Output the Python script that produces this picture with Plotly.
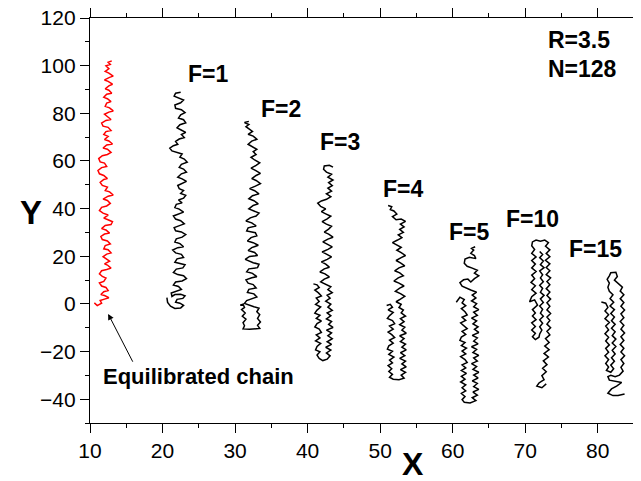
import plotly.graph_objects as go

# ---------------- data, (x, y) pairs per chain ----------------
eq_chain = [(10.6, 0.4), (11.0, -0.7), (11.6, 0.3), (11.4, 1.4), (12.0, 2.0), (12.6, 2.6), (12.0, 3.5), (11.5, 3.9),
            (11.9, 5.1), (12.5, 5.6), (12.2, 6.9), (11.6, 7.5), (11.3, 8.8), (11.9, 9.4), (12.2, 10.8), (11.7, 11.5),
            (11.3, 12.6), (11.6, 13.9), (12.3, 14.4), (12.9, 15.0), (12.4, 16.3), (12.0, 16.8), (12.7, 17.9), (12.2, 19.1),
            (11.8, 19.8), (12.3, 20.9), (12.9, 21.4), (12.5, 22.7), (11.9, 23.1), (12.1, 24.5), (12.8, 25.2), (12.4, 26.4),
            (11.7, 27.0), (11.5, 28.3), (12.0, 29.3), (12.7, 29.7), (12.2, 31.0), (11.6, 31.6), (12.1, 32.9), (12.9, 33.3),
            (13.1, 34.5), (12.4, 35.4), (11.9, 36.0), (12.5, 37.3), (11.8, 38.1), (11.3, 39.2), (11.6, 40.5), (12.3, 41.1),
            (12.8, 42.2), (12.4, 43.4), (11.8, 44.0), (12.5, 45.2), (13.2, 45.7), (12.7, 47.0), (12.1, 47.6), (12.4, 49.0),
            (11.7, 49.7), (11.4, 51.0), (11.9, 52.2), (12.4, 52.6), (11.9, 53.9), (11.3, 54.6), (11.1, 56.0), (11.6, 57.2),
            (12.3, 57.7), (12.0, 59.1), (11.4, 59.6), (11.2, 61.0), (11.7, 62.2), (12.4, 62.7), (12.9, 63.6), (12.4, 64.9),
            (11.8, 65.4), (12.3, 66.7), (13.1, 67.1), (12.6, 68.4), (12.0, 69.0), (12.5, 70.3), (11.9, 71.1), (12.2, 72.3),
            (12.9, 72.8), (12.5, 74.1), (11.8, 74.6), (11.6, 75.9), (12.2, 77.0), (12.9, 77.4), (12.4, 78.7), (12.0, 79.6),
            (12.6, 80.5), (13.2, 81.0), (12.7, 82.3), (12.1, 82.9), (12.3, 84.3), (12.9, 84.9), (12.4, 86.1), (11.9, 86.7),
            (12.3, 88.0), (13.0, 88.4), (12.6, 89.7), (12.1, 90.3), (12.6, 91.5), (13.1, 92.2), (12.5, 93.4), (12.0, 94.0),
            (12.7, 95.1), (13.2, 95.6), (12.6, 96.9), (12.1, 97.6), (12.6, 98.7), (12.2, 99.9), (12.8, 100.5), (12.5, 101.4),
            (13.0, 102.0)]

f1_chain = [(20.6, 2.6), (20.7, 0.6), (21.1, -1.0), (21.7, -1.9), (22.5, -1.7), (22.9, -0.6), (22.4, 0.3), (21.8, 0.7),
            (22.0, 1.9), (22.8, 2.3), (23.1, 3.4), (22.5, 4.0), (21.7, 3.9), (21.3, 3.1), (21.2, 4.6), (21.9, 5.5),
            (22.6, 6.1), (22.2, 7.3), (21.5, 7.9), (21.8, 9.2), (22.7, 9.6), (23.3, 10.6), (22.9, 11.8), (22.1, 12.3),
            (21.5, 13.2), (21.9, 14.6), (22.8, 15.1), (23.1, 16.4), (22.4, 17.1), (21.7, 17.5), (22.0, 18.9), (22.9, 19.5),
            (22.6, 20.8), (21.8, 21.4), (21.4, 22.6), (22.1, 23.6), (22.9, 24.0), (22.4, 25.3), (21.7, 26.0), (21.9, 27.3),
            (22.7, 28.0), (23.2, 29.1), (22.6, 30.2), (21.8, 30.7), (21.6, 32.0), (22.4, 32.9), (23.0, 33.6), (22.5, 34.9),
            (21.8, 35.6), (21.5, 36.9), (22.2, 37.8), (22.9, 38.5), (22.3, 39.8), (21.7, 40.4), (21.9, 41.8), (22.7, 42.4),
            (22.2, 43.6), (22.9, 44.4), (23.2, 45.6), (22.5, 46.4), (22.9, 47.6), (22.3, 48.4), (22.1, 49.7), (22.8, 50.5),
            (23.3, 51.4), (22.7, 52.5), (22.1, 53.2), (22.6, 54.6), (23.3, 55.3), (22.9, 56.6), (22.3, 57.3), (22.6, 58.6),
            (23.4, 59.5), (23.0, 60.8), (22.4, 61.6), (22.7, 62.9), (22.0, 63.6), (21.3, 64.2), (21.0, 65.4), (21.5, 66.4),
            (22.1, 67.0), (21.8, 68.2), (22.3, 69.2), (23.0, 69.8), (22.6, 71.1), (23.2, 72.0), (22.5, 73.1), (22.0, 73.9),
            (22.4, 75.2), (23.2, 76.0), (22.9, 77.3), (22.2, 78.0), (22.5, 79.4), (23.1, 80.3), (22.6, 81.5), (21.8, 82.1),
            (21.7, 83.5), (22.5, 84.4), (22.9, 85.6), (22.2, 86.5), (21.6, 87.2), (21.8, 88.4), (22.5, 88.8)]

f2_chain = [(30.7, -0.6), (31.1, -0.1), (31.3, -1.5), (30.9, -2.4), (31.4, -3.8), (31.0, -5.2), (31.5, -6.4), (31.1, -7.9),
            (31.3, -9.2), (31.1, -10.5), (32.0, -10.7), (32.9, -10.6), (33.4, -10.3), (33.1, -9.0), (33.5, -7.6), (33.1, -6.1),
            (33.4, -4.5), (33.0, -3.3), (33.3, -1.8), (32.6, -1.2), (31.9, -0.4), (31.3, 0.2), (31.6, 1.4), (32.4, 2.1),
            (33.0, 2.9), (32.6, 4.2), (31.7, 4.8), (31.9, 6.1), (32.9, 6.7), (32.5, 8.1), (31.8, 8.7), (31.5, 10.1),
            (32.3, 11.0), (33.0, 11.4), (32.4, 12.8), (31.6, 13.5), (31.9, 14.7), (33.1, 15.2), (33.3, 16.6), (32.5, 17.3),
            (31.4, 18.7), (32.0, 19.9), (33.1, 20.3), (32.7, 21.6), (31.8, 22.4), (32.3, 23.6), (33.2, 24.6), (32.5, 25.7),
            (31.7, 26.4), (32.2, 27.8), (33.0, 28.6), (32.8, 29.9), (31.6, 30.6), (31.8, 31.9), (32.9, 32.7), (32.3, 34.0),
            (31.5, 34.8), (32.1, 36.1), (32.9, 36.9), (33.3, 38.1), (32.6, 39.0), (31.9, 39.9), (32.5, 41.3), (33.2, 42.0),
            (32.6, 43.3), (31.9, 44.1), (32.4, 45.4), (33.3, 46.2), (32.7, 47.5), (32.0, 48.4), (32.8, 49.4), (33.5, 50.5),
            (32.9, 51.8), (32.3, 52.6), (32.9, 53.9), (33.5, 54.8), (32.8, 56.0), (32.2, 57.0), (32.9, 58.1), (33.4, 59.2),
            (32.7, 60.4), (32.2, 61.5), (32.9, 62.7), (32.5, 63.9), (33.0, 64.9), (32.4, 66.1), (31.8, 67.0), (32.3, 68.3),
            (33.0, 69.1), (32.5, 70.4), (31.8, 71.2), (32.4, 72.4), (31.9, 73.5), (31.5, 74.4), (31.9, 75.3), (31.3, 76.1),
            (31.9, 76.6)]

f3_chain = [(40.8, 8.4), (41.3, 8.0), (41.6, 6.9), (41.0, 5.8), (41.5, 4.6), (41.9, 3.3), (41.2, 2.4), (41.6, 1.0),
            (41.1, -0.2), (41.8, -1.3), (41.3, -2.6), (41.0, -3.9), (41.7, -4.8), (41.2, -6.1), (41.9, -7.2), (41.3, -8.3),
            (41.0, -9.7), (41.6, -10.6), (41.9, -12.0), (41.2, -13.0), (41.7, -14.3), (41.1, -15.5), (41.8, -16.6), (41.3, -17.9),
            (41.1, -19.3), (41.7, -20.1), (41.3, -21.5), (41.6, -22.9), (42.1, -23.8), (42.7, -23.2), (43.1, -21.8), (42.6, -20.6),
            (43.2, -19.4), (42.5, -18.2), (43.3, -17.0), (42.7, -15.9), (43.4, -14.6), (42.8, -13.4), (43.3, -12.2), (42.6, -11.0),
            (43.5, -9.9), (42.9, -8.6), (43.3, -7.4), (42.6, -6.3), (43.2, -5.0), (42.7, -3.8), (43.4, -2.7), (42.8, -1.4),
            (43.2, -0.1), (42.5, 1.1), (43.1, 2.4), (42.7, 3.6), (43.4, 4.7), (42.8, 6.0), (43.2, 7.2), (42.4, 8.3),
            (41.8, 9.2), (42.3, 10.4), (43.0, 11.3), (42.4, 12.6), (41.7, 13.4), (42.3, 14.7), (43.0, 15.4), (42.5, 16.7),
            (41.9, 17.6), (42.7, 18.7), (43.3, 19.7), (42.6, 20.9), (42.0, 21.8), (42.8, 22.9), (43.4, 23.9), (42.7, 25.1),
            (42.1, 26.0), (42.8, 27.2), (43.5, 28.0), (42.9, 29.3), (42.3, 30.1), (42.9, 31.4), (43.3, 32.6), (42.6, 33.5),
            (42.0, 34.5), (42.7, 35.7), (43.2, 36.8), (42.5, 37.8), (41.9, 38.7), (42.5, 39.9), (41.8, 40.9), (41.4, 42.3),
            (41.9, 43.2), (42.6, 43.9), (43.2, 45.0), (42.6, 46.2), (43.3, 47.3), (42.8, 48.6), (43.4, 49.6), (42.9, 50.9),
            (43.5, 52.0), (42.8, 53.2), (43.3, 54.4), (42.6, 55.3), (42.2, 56.5), (42.3, 57.9), (43.0, 58.2), (43.5, 57.4)]

f4_chain = [(50.9, -0.7), (51.4, -0.2), (51.7, -1.4), (51.1, -2.5), (51.8, -3.6), (51.3, -4.9), (51.0, -6.1), (51.7, -7.0),
            (52.0, -8.3), (51.3, -9.3), (51.8, -10.6), (51.1, -11.8), (51.6, -12.9), (52.0, -14.1), (51.3, -15.2), (51.8, -16.5),
            (51.2, -17.6), (51.0, -19.0), (51.7, -19.9), (51.2, -21.2), (51.9, -22.3), (51.3, -23.6), (51.7, -24.8), (51.1, -25.9),
            (51.6, -27.2), (51.2, -28.4), (51.7, -29.6), (51.3, -30.8), (51.8, -31.6), (52.6, -31.8), (53.3, -31.2), (52.9, -29.9),
            (53.5, -28.7), (52.8, -27.6), (53.6, -26.4), (53.0, -25.2), (53.5, -24.0), (52.7, -22.9), (53.4, -21.7), (52.8, -20.5),
            (53.6, -19.3), (53.0, -18.2), (53.5, -16.9), (52.8, -15.8), (53.3, -14.6), (52.7, -13.4), (53.6, -12.3), (53.0, -11.0),
            (53.4, -9.8), (52.7, -8.7), (53.3, -7.5), (52.8, -6.2), (53.5, -5.1), (52.9, -3.8), (53.2, -2.6), (52.6, -1.5),
            (52.9, -0.2), (52.2, 0.9), (52.8, 2.0), (53.4, 3.2), (52.8, 4.3), (52.1, 5.3), (52.7, 6.6), (53.3, 7.5),
            (52.6, 8.7), (51.9, 9.6), (52.5, 10.9), (53.2, 11.8), (52.7, 13.0), (52.0, 13.9), (52.6, 15.1), (53.4, 16.0),
            (52.8, 17.2), (52.2, 18.2), (52.9, 19.4), (53.5, 20.3), (52.9, 21.5), (52.3, 22.5), (52.9, 23.7), (52.3, 24.8),
            (51.7, 25.7), (52.4, 26.8), (53.0, 27.8), (52.5, 29.0), (53.2, 30.0), (52.7, 31.3), (53.3, 32.3), (52.8, 33.5),
            (53.5, 34.6), (52.9, 35.6), (52.2, 35.3), (51.7, 36.6), (52.3, 37.7), (51.9, 39.0), (51.4, 39.6), (51.6, 40.8),
            (51.1, 41.3)]

f5_chain = [(60.5, 0.7), (61.0, 2.8), (61.6, 1.8), (61.3, 0.4), (61.8, -0.8), (61.2, -2.0), (61.7, -3.3), (62.0, -4.6),
            (61.3, -5.6), (61.8, -6.9), (61.1, -8.0), (61.6, -9.3), (62.0, -10.4), (61.3, -11.5), (61.8, -12.8), (61.2, -13.9),
            (61.0, -15.3), (61.7, -16.2), (61.2, -17.5), (61.9, -18.6), (61.3, -19.8), (61.8, -21.0), (61.1, -22.1), (61.7, -23.4),
            (62.0, -24.6), (61.3, -25.6), (61.8, -26.9), (61.2, -28.0), (61.9, -29.2), (61.2, -30.4), (61.7, -31.6), (61.1, -32.8),
            (61.8, -34.0), (61.3, -35.2), (61.8, -36.5), (61.2, -37.6), (61.7, -38.9), (61.3, -40.2), (61.6, -41.3), (62.4, -41.6),
            (63.2, -40.6), (62.7, -39.4), (63.4, -38.3), (62.8, -37.0), (63.6, -35.9), (62.9, -34.7), (63.4, -33.4), (62.7, -32.3),
            (63.5, -31.1), (62.9, -29.9), (63.6, -28.7), (62.8, -27.5), (63.3, -26.3), (62.6, -25.1), (63.4, -24.0), (62.9, -22.7),
            (63.6, -21.6), (62.8, -20.4), (63.3, -19.1), (62.6, -18.0), (63.5, -16.8), (62.9, -15.6), (63.4, -14.3), (62.7, -13.2),
            (63.6, -12.0), (63.0, -10.7), (63.5, -9.6), (62.8, -8.4), (63.3, -7.1), (62.6, -6.0), (63.4, -4.8), (62.9, -3.5),
            (63.6, -2.4), (62.9, -1.2), (63.3, 0.1), (62.6, 1.2), (63.2, 2.5), (62.7, 3.7), (63.3, 4.9), (62.5, 5.8),
            (61.9, 6.6), (61.3, 7.4), (61.0, 8.9), (61.5, 10.1), (62.1, 10.4), (62.5, 9.2), (63.0, 10.6), (63.6, 11.8),
            (63.0, 12.9), (63.4, 14.1), (62.7, 15.0), (62.0, 15.8), (61.6, 17.1), (61.7, 18.8), (62.3, 19.6), (63.2, 19.0),
            (63.0, 20.3), (62.5, 21.2), (62.9, 22.6), (62.6, 23.3), (63.1, 24.0)]

f10_chain = [(72.0, 22.0), (72.4, 20.7), (72.0, 19.4), (72.5, 18.0), (72.1, 16.5), (72.6, 15.2), (72.0, 13.8), (72.4, 12.2),
             (72.1, 10.9), (72.5, 9.3), (72.0, 7.8), (72.4, 6.5), (72.1, 4.9), (72.6, 3.6), (72.1, 2.1), (72.5, 0.6),
             (72.0, -0.9), (72.4, -2.3), (72.1, -3.9), (72.5, -5.2), (72.0, -6.7), (72.4, -8.1), (72.0, -9.6), (72.3, -11.0),
             (72.0, -12.6), (71.9, -14.0), (71.4, -15.0), (71.0, -13.8), (71.4, -12.4), (70.9, -11.0), (71.4, -9.5), (70.9, -8.0),
             (71.5, -6.6), (71.0, -5.1), (71.4, -3.8), (71.0, -2.4), (71.7, -0.5), (71.3, 1.7), (70.6, 0.9), (70.9, 3.0),
             (71.5, 4.5), (70.9, 6.0), (71.4, 7.6), (70.8, 9.0), (71.3, 10.6), (70.9, 12.1), (71.5, 13.6), (70.9, 15.1),
             (71.4, 16.7), (70.9, 18.2), (71.5, 19.7), (70.9, 21.2), (71.3, 22.8), (70.9, 24.4), (71.0, 26.0), (71.5, 26.8),
             (72.1, 26.3), (72.7, 26.8), (73.2, 25.7), (72.8, 24.2), (73.4, 22.7), (72.9, 21.2), (73.4, 19.8), (72.8, 18.3),
             (73.4, 16.8), (72.9, 15.3), (73.4, 13.9), (72.9, 12.3), (73.5, 10.9), (73.0, 9.4), (73.4, 8.0), (72.9, 6.4),
             (73.4, 5.0), (73.0, 3.5), (73.5, 2.0), (73.0, 0.5), (73.4, -1.0), (73.0, -2.5), (73.5, -4.0), (73.0, -5.5),
             (73.4, -7.0), (73.0, -8.5), (73.5, -10.0), (73.0, -11.5), (73.4, -13.0), (72.8, -14.6), (73.3, -16.2), (72.7, -17.7),
             (73.3, -19.2), (72.6, -20.8), (73.2, -22.3), (72.5, -23.9), (73.0, -25.5), (72.4, -27.0), (72.9, -28.5), (72.3, -30.1),
             (72.6, -31.8), (71.9, -33.2), (71.6, -34.5), (72.3, -35.2), (72.9, -33.6)]

f15_chain = [(80.5, 0.8), (81.1, 0.3), (81.4, -1.5), (81.0, -3.0), (81.5, -4.6), (81.0, -6.2), (81.6, -7.8), (81.1, -9.3),
             (81.5, -10.9), (81.0, -12.5), (81.5, -14.0), (81.1, -15.6), (81.6, -17.2), (81.1, -18.7), (81.5, -20.3), (81.0, -21.8),
             (81.5, -23.4), (81.1, -25.0), (81.5, -26.5), (81.2, -27.9), (81.8, -28.7), (82.2, -27.2), (81.8, -25.7), (82.3, -24.1),
             (81.9, -22.6), (82.4, -21.0), (82.0, -19.5), (82.5, -17.9), (82.0, -16.4), (82.5, -14.8), (82.0, -13.3), (82.4, -11.7),
             (81.9, -10.2), (82.4, -8.6), (81.9, -7.1), (82.3, -5.5), (81.8, -4.0), (82.3, -2.4), (81.7, -0.9), (82.2, 0.7),
             (81.7, 2.2), (82.1, 3.8), (81.6, 5.3), (81.4, 7.0), (81.6, 8.7), (81.3, 10.3), (81.6, 11.8), (81.8, 13.1),
             (82.5, 13.3), (82.7, 11.5), (82.3, 10.0), (82.9, 8.5), (83.4, 7.0), (83.1, 5.4), (83.6, 3.8), (83.1, 2.2),
             (83.6, 0.6), (83.2, -1.0), (83.7, -2.6), (83.2, -4.2), (83.6, -5.8), (83.1, -7.4), (83.6, -9.0), (83.2, -10.6),
             (83.7, -12.2), (83.2, -13.8), (83.6, -15.4), (83.1, -17.0), (83.6, -18.6), (83.2, -20.2), (83.7, -21.8), (83.2, -23.4),
             (83.6, -25.0), (83.2, -26.6), (83.5, -28.2), (83.0, -29.9), (82.4, -30.6), (81.8, -30.0), (81.4, -30.5), (81.6, -32.0),
             (82.4, -32.5), (83.3, -33.0), (82.6, -34.5), (81.9, -35.7), (81.4, -37.5), (82.1, -38.5), (82.8, -38.5), (83.7, -37.8)]

chains = [
    ("Equilibrated", eq_chain, "#ff0000"),
    ("F=1", f1_chain, "black"),
    ("F=2", f2_chain, "black"),
    ("F=3", f3_chain, "black"),
    ("F=4", f4_chain, "black"),
    ("F=5", f5_chain, "black"),
    ("F=10", f10_chain, "black"),
    ("F=15", f15_chain, "black"),
]

label_text = ["F=1", "F=2", "F=3", "F=4", "F=5", "F=10", "F=15"]
label_x = [26.3, 36.4, 44.4, 53.1, 62.2, 71.0, 79.7]
label_y = [96.7, 82.0, 68.0, 48.4, 30.0, 35.8, 23.2]

x_ticks = [10, 20, 30, 40, 50, 60, 70, 80]
y_ticks = [-40, -20, 0, 20, 40, 60, 80, 100, 120]

FONT = "Liberation Sans, Arial, Helvetica, sans-serif"

fig = go.Figure()
for name, pts, col in chains:
    xs = [p[0] for p in pts]
    ys = [p[1] for p in pts]
    fig.add_trace(go.Scatter(x=xs, y=ys, mode="lines", name=name,
                             line=dict(color=col, width=1.5),
                             showlegend=False, hoverinfo="skip"))

annotations = []
for t, lx, ly in zip(label_text, label_x, label_y):
    annotations.append(dict(x=lx, y=ly, xref="x", yref="y", text="<b>%s</b>" % t,
                            xanchor="center", yanchor="middle", showarrow=False,
                            font=dict(family=FONT, size=23, color="black")))

annotations += [
    dict(x=72.9, y=110.9, xref="x", yref="y", text="<b>R=3.5</b>", xanchor="left", yanchor="middle",
         showarrow=False, font=dict(family=FONT, size=23, color="black")),
    dict(x=72.9, y=98.7, xref="x", yref="y", text="<b>N=128</b>", xanchor="left", yanchor="middle",
         showarrow=False, font=dict(family=FONT, size=23, color="black")),
    dict(x=24.9, y=-30.5, xref="x", yref="y", text="<b>Equilibrated chain</b>", xanchor="center",
         yanchor="middle", showarrow=False, font=dict(family=FONT, size=22, color="black")),
    dict(x=12.5, y=-4.2, xref="x", yref="y", ax=16.0, ay=-24.9, axref="x", ayref="y",
         text="", showarrow=True, arrowhead=2, arrowsize=1.2, arrowwidth=1, arrowcolor="black"),
    dict(x=0.594, y=-0.100, xref="paper", yref="paper", text="<b>X</b>", xanchor="center",
         yanchor="middle", showarrow=False, font=dict(family=FONT, size=32, color="black")),
    dict(x=-0.108, y=0.519, xref="paper", yref="paper", text="<b>Y</b>", xanchor="center",
         yanchor="middle", showarrow=False, font=dict(family=FONT, size=33, color="black")),
]

axis_common = dict(showgrid=False, zeroline=False, showline=True, linecolor="black", linewidth=1.3,
                   ticks="outside", ticklen=9, tickwidth=1.3, tickcolor="black", automargin=False,
                   ticklabeloverflow="allow",
                   tickfont=dict(family=FONT, size=21, color="black"))

fig.update_layout(
    width=641, height=481,
    margin=dict(l=82, r=15, t=10, b=66),
    plot_bgcolor="white", paper_bgcolor="white",
    xaxis=dict(range=[10, 85], tickvals=x_ticks, mirror="ticks",
               minor=dict(dtick=5, tick0=0, ticklen=4, ticks="outside", tickcolor="black", tickwidth=1.3),
               **axis_common),
    yaxis=dict(range=[-50, 120], tickvals=y_ticks, mirror=True,
               minor=dict(dtick=10, tick0=0, ticklen=4, ticks="outside", tickcolor="black", tickwidth=1.3),
               **axis_common),
    annotations=annotations,
)

fig.write_html("out.html")
